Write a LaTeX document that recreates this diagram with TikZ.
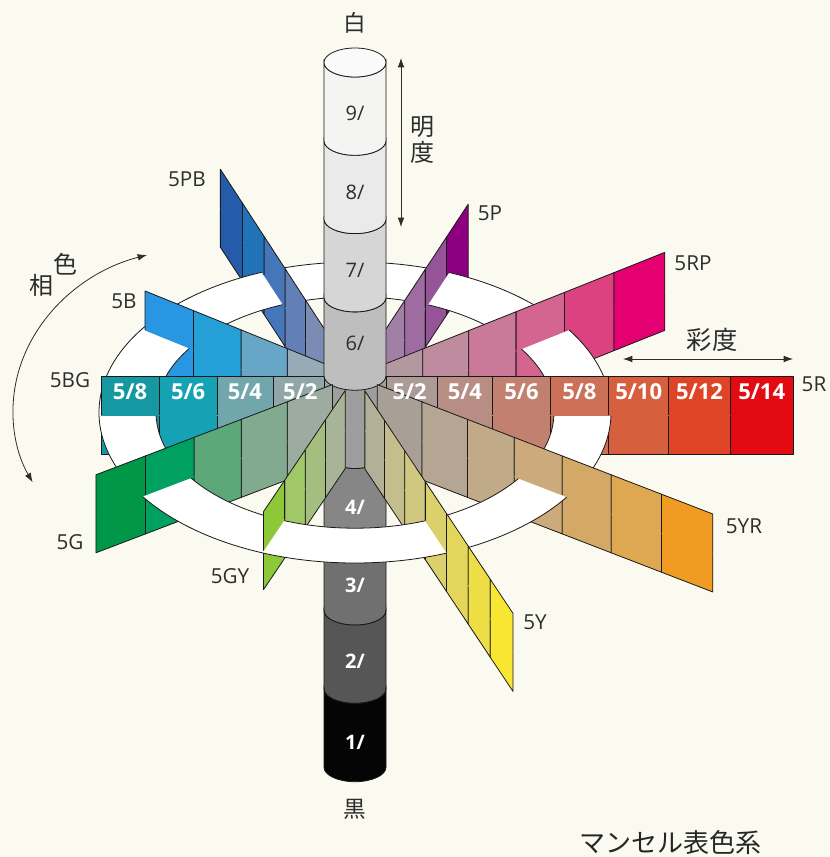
\documentclass[tikz,border=0pt]{standalone}
\usepackage{fontspec}
\setmainfont{Open Sans}
\newfontfamily\jp{Noto Sans CJK JP}
\usetikzlibrary{arrows.meta}
\definecolor{bg}{RGB}{250,250,240}
% R
\definecolor{R1}{RGB}{172,154,148}\definecolor{R2}{RGB}{184,142,132}\definecolor{R3}{RGB}{194,128,112}
\definecolor{R4}{RGB}{204,112,88}\definecolor{R5}{RGB}{214,96,62}\definecolor{R6}{RGB}{222,68,38}\definecolor{R7}{RGB}{228,10,18}
% RP
\definecolor{RP1}{RGB}{180,152,160}\definecolor{RP2}{RGB}{190,140,158}\definecolor{RP3}{RGB}{202,122,152}
\definecolor{RP4}{RGB}{212,100,144}\definecolor{RP5}{RGB}{220,66,128}\definecolor{RP6}{RGB}{228,0,112}
% P
\definecolor{P1}{RGB}{168,148,172}\definecolor{P2}{RGB}{162,128,166}\definecolor{P3}{RGB}{158,108,160}
\definecolor{P4}{RGB}{150,84,152}\definecolor{P5}{RGB}{140,0,128}
% PB
\definecolor{PB1}{RGB}{140,152,178}\definecolor{PB2}{RGB}{122,140,180}\definecolor{PB3}{RGB}{98,128,182}
\definecolor{PB4}{RGB}{70,118,186}\definecolor{PB5}{RGB}{34,114,184}\definecolor{PB6}{RGB}{36,92,170}
% B
\definecolor{B1}{RGB}{150,170,184}\definecolor{B2}{RGB}{104,166,200}\definecolor{B3}{RGB}{36,160,214}\definecolor{B4}{RGB}{40,150,226}
% BG
\definecolor{BG1}{RGB}{144,166,168}\definecolor{BG2}{RGB}{112,166,172}\definecolor{BG3}{RGB}{20,162,180}\definecolor{BG4}{RGB}{22,152,162}
% G
\definecolor{G1}{RGB}{156,172,160}\definecolor{G2}{RGB}{130,170,142}\definecolor{G3}{RGB}{92,168,120}
\definecolor{G4}{RGB}{0,160,96}\definecolor{G5}{RGB}{0,152,72}
% GY
\definecolor{GY1}{RGB}{168,180,150}\definecolor{GY2}{RGB}{164,190,128}\definecolor{GY3}{RGB}{160,200,104}\definecolor{GY4}{RGB}{140,200,56}
% Y
\definecolor{Y1}{RGB}{178,176,150}\definecolor{Y2}{RGB}{196,190,140}\definecolor{Y3}{RGB}{208,200,128}
\definecolor{Y4}{RGB}{218,208,108}\definecolor{Y5}{RGB}{228,214,90}\definecolor{Y6}{RGB}{238,222,70}\definecolor{Y7}{RGB}{248,230,50}
% YR
\definecolor{YR1}{RGB}{168,160,150}\definecolor{YR2}{RGB}{180,166,146}\definecolor{YR3}{RGB}{192,170,136}
\definecolor{YR4}{RGB}{204,170,124}\definecolor{YR5}{RGB}{212,168,102}\definecolor{YR6}{RGB}{222,168,82}\definecolor{YR7}{RGB}{240,156,36}
% cylinder
\definecolor{cA}{RGB}{5,5,5}\definecolor{cB}{RGB}{86,86,86}\definecolor{cC}{RGB}{112,112,112}
\definecolor{cD}{RGB}{134,134,134}\definecolor{cE}{RGB}{158,158,158}\definecolor{cF}{RGB}{190,190,190}
\definecolor{cG}{RGB}{214,214,214}\definecolor{cH}{RGB}{234,234,234}\definecolor{cI}{RGB}{244,244,242}
\definecolor{ctop}{RGB}{250,250,250}
\definecolor{ink}{RGB}{45,45,45}

\def\colR{R1,R2,R3,R4,R5,R6,R7}
\def\colRP{RP1,RP2,RP3,RP4,RP5,RP6}
\def\colP{P1,P2,P3,P4,P5}
\def\colPB{PB1,PB2,PB3,PB4,PB5,PB6}
\def\colB{B1,B2,B3,B4}
\def\colBG{BG1,BG2,BG3,BG4}
\def\colG{G1,G2,G3,G4,G5}
\def\colGY{GY1,GY2,GY3,GY4}
\def\colY{Y1,Y2,Y3,Y4,Y5,Y6,Y7}
\def\colYR{YR1,YR2,YR3,YR4,YR5,YR6,YR7}

\tikzset{
  cell/.style={draw=black!90, line width=0.6pt, line join=round},
  cyl/.style={draw=black!90, line width=0.6pt},
  huelab/.style={font=\fontsize{15.5}{18}\selectfont, text=ink},
  plab/.style={font=\bfseries\fontsize{16.5}{18}\selectfont, text=white},
  vdark/.style={font=\fontsize{15}{18}\selectfont, text=ink},
  vlight/.style={font=\bfseries\fontsize{15}{18}\selectfont, text=white},
  jlab/.style={font=\jp\fontsize{17}{20}\selectfont, text=ink},
  arr/.style={line width=0.6pt, draw=ink, {Latex[length=7pt,width=5pt]}-{Latex[length=7pt,width=5pt]}}
}

% #1 dx, #2 dy (first cell), #3 outer offset (-39 upper / 39 lower), #4 small overlap past midline, #5 colour list macro
\newcommand\halfpanel[5]{%
  \foreach \cc [count=\i from 0] in #5 {
    \pgfmathsetmacro\panA{0.5+(1.024^\i-1)/0.024}
    \pgfmathsetmacro\panB{0.5+(1.024^(\i+1)-1)/0.024}
    \fill[\cc]
      ({355+\panA*(#1)},{415+\panA*(#2)+(#4)}) --
      ({355+\panA*(#1)},{415+\panA*(#2)+(#3)}) --
      ({355+\panB*(#1)},{415+\panB*(#2)+(#3)}) --
      ({355+\panB*(#1)},{415+\panB*(#2)+(#4)}) -- cycle;
    \draw[cell]
      ({355+\panA*(#1)},{415+\panA*(#2)}) --
      ({355+\panA*(#1)},{415+\panA*(#2)+(#3)}) --
      ({355+\panB*(#1)},{415+\panB*(#2)+(#3)}) --
      ({355+\panB*(#1)},{415+\panB*(#2)});
  }%
}
\newcommand\panelup[3]{\halfpanel{#1}{#2}{-39}{0.5}{#3}}
\newcommand\paneldown[3]{\halfpanel{#1}{#2}{39}{-0.5}{#3}}
\newcommand\cylseg[3]{%
  \filldraw[cyl, fill=#3] (324,#1) -- (324,#2)
    arc[start angle=180, end angle=360, x radius=23.25pt, y radius=10.875pt]
    -- (386,#1)
    arc[start angle=0, end angle=-180, x radius=23.25pt, y radius=10.875pt] -- cycle;}

\begin{document}
\begin{tikzpicture}[x=0.75pt,y=-0.75pt]
\useasboundingbox (0,0) rectangle (829,857);
\fill[bg] (0,0) rectangle (829,857);

% ---------- lower halves (below the ring plane) ----------
\paneldown{-19.6}{-30.1}{\colPB}
\paneldown{19.7}{-29.9}{\colP}
\paneldown{-45.2}{-18.3}{\colB}
\paneldown{45.1}{-18.0}{\colRP}
\paneldown{54.6}{0}{\colR}
\paneldown{-54.7}{0}{\colBG}

\cylseg{375.7}{454}{cE}
\cylseg{454}{532.3}{cD}
\cylseg{532.3}{610.6}{cC}
\cylseg{610.6}{688.9}{cB}
\cylseg{688.9}{767.2}{cA}
\node[vlight] (v4) at (355,507) {4/};
\node[vlight] (v3) at (355,585) {3/};
\node[vlight] (v2) at (355,661) {2/};
\node[vlight] (v1) at (355,742) {1/};

\paneldown{44.6}{17.2}{\colYR}
\paneldown{-45.1}{17.2}{\colG}
\paneldown{19.7}{29.6}{\colY}
\paneldown{-19.7}{29.2}{\colGY}

% ---------- hue ring ----------
\filldraw[fill=white, draw=black!90, line width=0.6pt, even odd rule]
  (355,412.5) ellipse [x radius=192pt, y radius=112.875pt]
  (355,412.5) ellipse [x radius=149.25pt, y radius=86.775pt];

% ---------- upper halves ----------
\panelup{-19.6}{-30.1}{\colPB}
\panelup{19.7}{-29.9}{\colP}
\panelup{-45.2}{-18.3}{\colB}
\panelup{45.1}{-18.0}{\colRP}
\panelup{54.6}{0}{\colR}
\panelup{-54.7}{0}{\colBG}

\fill[cE] (324,375.7) -- (324,414.85)
  arc[start angle=180, end angle=360, x radius=23.25pt, y radius=10.875pt]
  -- (386,375.7)
  arc[start angle=0, end angle=-180, x radius=23.25pt, y radius=10.875pt] -- cycle;
\draw[cyl] (324,375.7) -- (324,414.85) (386,375.7) -- (386,414.85);
\cylseg{297.4}{375.7}{cF}
\cylseg{219.1}{297.4}{cG}
\cylseg{140.8}{219.1}{cH}
\cylseg{62.5}{140.8}{cI}
\filldraw[cyl, fill=ctop] (355,62.5) ellipse [x radius=23.25pt, y radius=10.875pt];
\node[vdark] (v9) at (355,113) {9/};
\node[vdark] (v8) at (355,192) {8/};
\node[vdark] (v7) at (355,270) {7/};
\node[vdark] (v6) at (355,343) {6/};

\panelup{44.6}{17.2}{\colYR}
\panelup{-45.1}{17.2}{\colG}
\panelup{19.7}{29.6}{\colY}
\panelup{-19.7}{29.2}{\colGY}

% ---------- chroma labels ----------
\node[plab] (r2) at (409.6,392) {5/2};
\node[plab] (r4) at (464.9,392) {5/4};
\node[plab] (r6) at (521.5,392) {5/6};
\node[plab] (r8) at (579.4,392) {5/8};
\node[plab] (r10) at (638.7,392) {5/10};
\node[plab] (r12) at (699.5,392) {5/12};
\node[plab] (r14) at (761.7,392) {5/14};
\node[plab] (g2) at (300.3,392) {5/2};
\node[plab] (g4) at (244.9,392) {5/4};
\node[plab] (g6) at (188.2,392) {5/6};
\node[plab] (g8) at (130.1,392) {5/8};

% ---------- hue labels ----------
\node[huelab] (h5R) at (814,384) {5R};
\node[huelab] (h5RP) at (693,263) {5RP};
\node[huelab] (h5P) at (490,213) {5P};
\node[huelab] (h5PB) at (187,179) {5PB};
\node[huelab] (h5B) at (124,301) {5B};
\node[huelab] (h5BG) at (70,380) {5BG};
\node[huelab] (h5G) at (70,542) {5G};
\node[huelab] (h5GY) at (230,576) {5GY};
\node[huelab] (h5Y) at (535,622) {5Y};
\node[huelab] (h5YR) at (744,526) {5YR};

% ---------- value / chroma / hue annotations ----------
\node[jlab] (white) at (355,23) {白};
\node[jlab] (black) at (355,809) {黒};
\coordinate (vt) at (401,58);
\coordinate (vb) at (401,227);
\draw[arr] (vt) -- (vb);
\node[jlab, font=\jp\fontsize{18}{20}\selectfont] (mei) at (422,127) {明};
\node[jlab, font=\jp\fontsize{18}{20}\selectfont] (do1) at (422,152) {度};
\coordinate (cl) at (623,359);
\coordinate (cr) at (793,359);
\draw[arr] (cl) -- (cr);
\node[jlab, font=\jp\fontsize{19}{20}\selectfont] (sai) at (712,340) {彩度};
\coordinate (hs) at (147,255);
\draw[arr] (hs) arc[start angle=106.5, end angle=206.4, x radius=140.25pt, y radius=121.5pt];
\node[jlab, font=\jp\fontsize{18}{20}\selectfont] (iro) at (65,264) {色};
\node[jlab, font=\jp\fontsize{18}{20}\selectfont] (sou) at (41,285) {相};
\node[jlab, font=\jp\fontsize{19.5}{22}\selectfont, text=black!85] (title) at (670,843) {マンセル表色系};
\end{tikzpicture}
\end{document}
